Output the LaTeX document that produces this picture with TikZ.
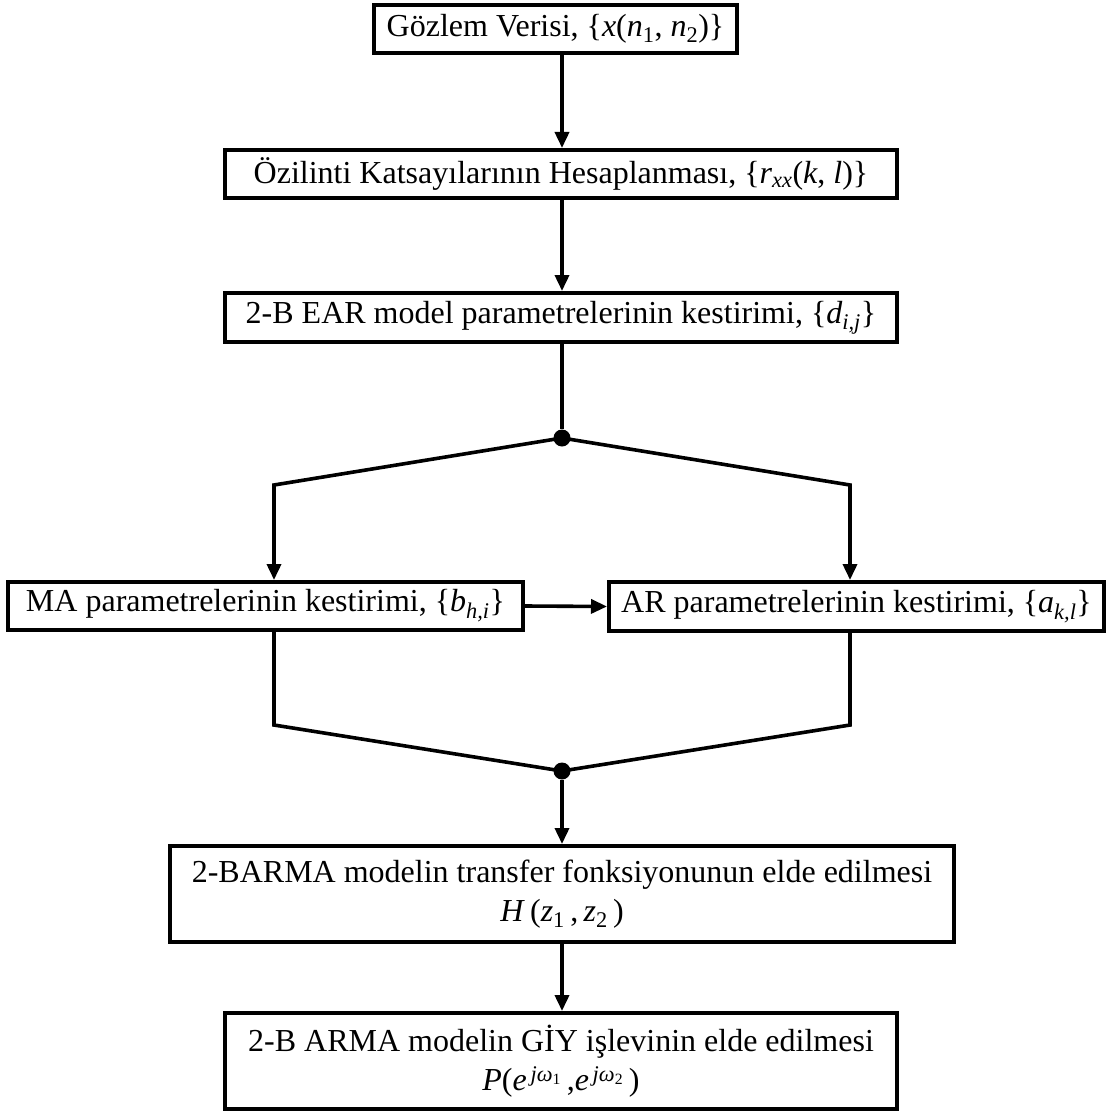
\documentclass[tikz,border=0pt]{standalone}
\usepackage{fontspec}
\setmainfont{Liberation Serif}
\usetikzlibrary{arrows.meta}

\tikzset{
  box/.style={draw, line width=4pt, rectangle, inner sep=0pt, align=center,
              font=\fontsize{32}{39}\selectfont},
  link/.style={line width=3.6pt, line join=miter},
  arr/.style={line width=3.6pt, line join=miter, -{Triangle[length=16pt,width=14pt]}},
  junction/.style={circle, fill, inner sep=0pt, minimum size=17pt}
}

\begin{document}
\begin{tikzpicture}[x=1pt, y=-1pt]
\useasboundingbox (0,0) rectangle (1109,1113);

% process boxes
\node[box, minimum width=363pt, minimum height=48pt] (obs) at (555.5,29)
  {Gözlem Verisi, \{\textit{x}(\textit{n}\textsubscript{1}, \textit{n}\textsubscript{2})\}};
\node[box, minimum width=672pt, minimum height=48pt] (acf) at (561,174)
  {Özilinti Katsayılarının Hesaplanması, \{\textit{r}\textsubscript{\textit{xx}}(\textit{k}, \textit{l})\}};
\node[box, minimum width=672pt, minimum height=49pt] (ear) at (561,317.5)
  {2-B EAR model parametrelerinin kestirimi, \{\textit{d}\textsubscript{\textit{i,j}}\}};
\node[box, minimum width=515pt, minimum height=48pt] (ma) at (265.5,606)
  {MA parametrelerinin kestirimi, \{\textit{b}\textsubscript{\textit{h,i}}\}};
\node[box, minimum width=495pt, minimum height=49pt] (ar) at (856.5,606.5)
  {AR parametrelerinin kestirimi, \{\textit{a}\textsubscript{\textit{k,l}}\}};
\node[box, minimum width=784pt, minimum height=96pt] (tf) at (562,894)
  {2-BARMA modelin transfer fonksiyonunun elde edilmesi\\
   \textit{H}\,(\textit{z}\textsubscript{1}\,,\,\textit{z}\textsubscript{2}\,)};
\node[box, minimum width=672pt, minimum height=96pt] (psd) at (561,1061)
  {2-B ARMA modelin GİY işlevinin elde edilmesi\\
   \textit{P}(\textit{e}\textsuperscript{\,\textit{jω}\textsubscript{1}}\,,\textit{e}\textsuperscript{\,\textit{jω}\textsubscript{2}}\,)};

% branch and merge points
\node[junction] (split) at (562,438) {};
\node[junction] (merge) at (562,771) {};
\coordinate (sl) at (274,485);
\coordinate (sr) at (850,485);
\coordinate (ml) at (274,725);
\coordinate (mr) at (850,725);

% connectors
\draw[arr] (obs.south -| split) -- (acf.north -| split);
\draw[arr] (acf.south -| split) -- (ear.north -| split);
\draw[link] (ear.south -| split) -- (split);
\draw[arr] (split.center) -- (sl) -- (sl |- ma.north);
\draw[arr] (split.center) -- (sr) -- (sr |- ar.north);
\draw[arr] (ma.east) -- (ar.west);
\draw[link] (ma.south -| ml) -- (ml) -- (merge.center);
\draw[link] (ar.south -| mr) -- (mr) -- (merge.center);
\draw[arr] (merge) -- (tf.north -| merge);
\draw[arr] (tf.south -| merge) -- (psd.north -| merge);
\end{tikzpicture}
\end{document}
